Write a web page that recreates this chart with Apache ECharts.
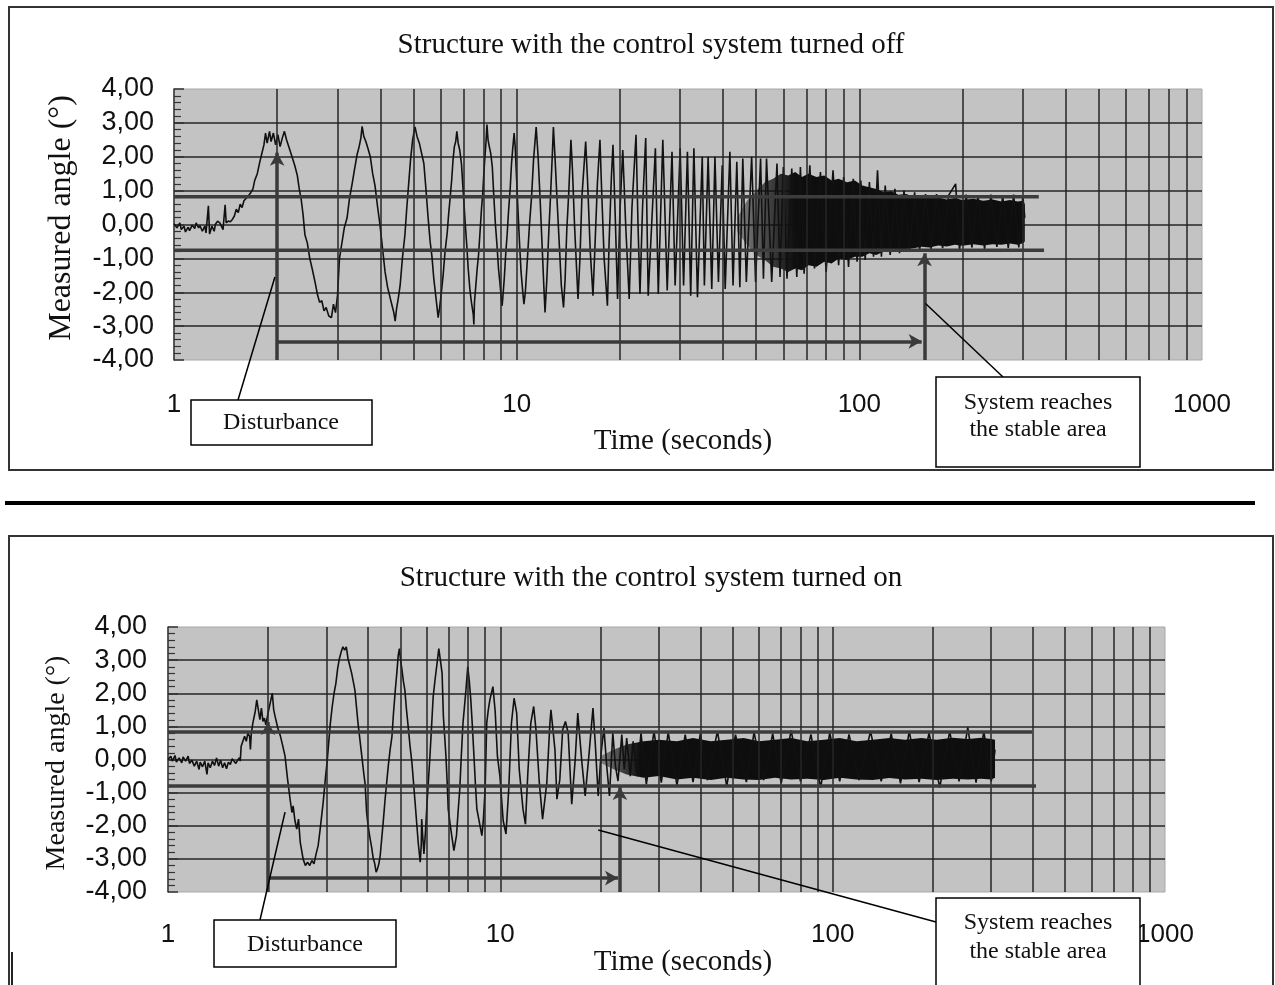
<!DOCTYPE html>
<html><head><meta charset="utf-8">
<script src="https://cdn.jsdelivr.net/npm/echarts@6/dist/echarts.min.js"></script>
<style>html,body{margin:0;padding:0;background:#fff;}#c{width:1275px;height:985px;}</style>
</head><body><div id="c"></div>
<script>
// ---------------- DATA ----------------
const xTickLabels = ['1', '10', '100', '1000'];
const xGridValues = [2,3,4,5,6,7,8,9,10,20,30,40,50,60,70,80,90,100,200,300,400,500,600,700,800,900];

// Panel 1 : control system turned off  [time (s), angle (deg)]
const offSignal = [
[1.00,0.02],[1.02,-0.10],[1.04,0.05],[1.05,-0.15],[1.07,-0.05],[1.08,-0.22],[1.10,-0.08],[1.11,-0.18],[1.13,-0.02],[1.15,-0.12],[1.16,0.05],[1.18,-0.10],[1.19,-0.03],[1.21,-0.20],[1.23,-0.05],[1.24,-0.25],[1.26,0.55],[1.27,-0.28],[1.29,-0.05],[1.31,-0.20],[1.32,0.00],[1.34,0.10],[1.36,0.05],[1.38,-0.08],[1.39,-0.15],[1.41,0.58],[1.42,0.05],[1.44,0.10],[1.46,0.08],[1.48,0.15],
[1.50,0.25],[1.52,0.45],[1.54,0.35],[1.56,0.60],[1.58,0.50],[1.60,0.70],[1.62,0.65],[1.65,0.85],[1.67,0.92],[1.70,1.05],[1.72,1.30],[1.75,1.50],[1.78,1.85],[1.80,2.05],[1.83,2.35],[1.85,2.70],[1.87,2.40],[1.90,2.75],[1.92,2.45],[1.95,2.70],[1.98,2.35],[2.01,2.65],[2.04,2.30],[2.07,2.55],[2.10,2.75],[2.13,2.50],[2.17,2.25],[2.21,2.00],[2.25,1.75],[2.29,1.45],[2.32,1.05],[2.35,0.75],[2.38,0.30],[2.41,-0.30],[2.45,-0.55],[2.49,-1.00],[2.53,-1.30],[2.58,-1.70],[2.62,-2.05],[2.66,-2.30],[2.70,-2.25],[2.74,-2.55],[2.78,-2.45],[2.83,-2.70],[2.88,-2.75],[2.92,-2.35],[2.96,-2.60],[3.00,-2.10],[3.04,-1.00],[3.09,-0.55],[3.14,-0.10],[3.20,0.20],[3.25,0.75],[3.31,1.20],[3.36,1.60],[3.42,2.05],[3.47,2.30],[3.51,2.55],[3.54,2.90],[3.58,2.60],[3.63,2.45],[3.68,2.25],[3.74,2.00],[3.80,1.50],[3.86,1.15],[3.93,0.50],[3.99,0.00],[4.06,-0.70],[4.13,-1.40],[4.20,-1.85],[4.27,-2.15],[4.33,-2.40],[4.38,-2.60],[4.42,-2.85],[4.46,-2.50],[4.51,-2.20],[4.57,-1.80],[4.64,-1.00],[4.72,-0.30],[4.78,0.50],[4.84,1.20],[4.90,1.90],[4.97,2.50],[5.05,2.88],[5.12,2.60],[5.20,2.40],[5.28,2.10],[5.36,1.80],[5.44,1.00],[5.51,0.25],[5.59,-0.50],[5.66,-0.95],[5.73,-1.60],[5.79,-2.00],[5.85,-2.40],[5.90,-2.75],[5.96,-2.45],[6.03,-2.00],[6.10,-1.50],[6.18,-0.80],[6.27,-0.25],[6.33,0.30],[6.39,0.75],[6.46,1.30],[6.52,1.90],[6.58,2.30],[6.64,2.45],[6.69,2.75],[6.75,2.40],[6.82,2.20],[6.90,1.80],[6.98,1.00],[7.07,0.10],[7.15,-0.60],[7.22,-1.30],[7.30,-1.90],[7.38,-2.30],[7.47,-2.65],[7.50,-2.95],[7.53,-2.30],[7.60,-1.80],[7.67,-1.30],[7.74,-0.90],[7.82,-0.20],[7.90,0.50],[7.96,0.90],[8.02,1.50],[8.08,2.00],[8.14,2.45],[8.19,2.95],[8.25,2.50],[8.32,2.30],[8.40,2.10],[8.49,1.70],[8.58,0.80],[8.67,0.00],[8.76,-0.60],[8.85,-1.30],[8.95,-1.80],[9.02,-2.20],[9.07,-2.40],[9.12,-2.10],[9.20,-1.60],[9.30,-0.80],[9.38,-0.30],[9.47,0.40],[9.58,1.10],[9.66,1.80],[9.75,2.30],[9.83,2.70],[9.90,2.30],[10.0,1.30],[10.08,0.50],[10.2,-0.60],[10.3,-1.40],[10.4,-1.90],[10.5,-2.35],[10.6,-2.00],[10.75,-1.00],[10.9,0.00],[11.05,0.80],[11.2,1.90],[11.4,2.88],[11.55,2.00],[11.7,0.80],[11.85,-0.50],[12.0,-1.80],[12.1,-2.60],[12.25,-1.60],[12.4,-0.30],[12.55,0.80],[12.7,2.00],[12.8,2.88],[12.95,1.90],[13.15,0.50],[13.35,-0.80],[13.5,-1.80],[13.7,-2.45],[13.85,-1.60],[14.0,-0.20],[14.2,1.00],[14.4,2.50],[14.55,1.60],[14.75,0.00],[15.1,-2.20],[15.3,-1.00],[15.5,0.80],[15.9,2.45],[16.1,1.30],[16.4,-0.80],[16.7,-2.10],[16.9,-0.80],[17.2,1.20],[17.5,2.50],[17.7,1.00],[18.0,-1.00],[18.4,-2.40],[18.6,-0.60],[18.9,1.40],[19.1,2.35],[19.4,0.20],[19.7,-2.20],[20.0,0.30],[20.4,2.20],[20.8,0.00],[21.3,-2.20],[21.7,0.50],[22.3,2.65],[22.6,0.00],[22.9,-2.05],[23.3,0.50],[23.8,2.55],[24.2,-2.10],[25.4,2.25],[25.9,-2.05],[26.7,2.50],[27.5,-1.95],[28.4,2.15],[29.0,-1.80],[30.0,2.25],[30.7,-1.80],[31.5,2.15],[32.2,-2.10],[32.9,2.25],[33.7,-2.15],[34.8,2.00],[35.3,-1.80],[36.2,2.00],[37.1,-1.90],[37.9,2.00],[38.8,-1.70],[39.8,1.75],[40.6,-1.90],[41.9,2.15],[42.8,-1.80],[43.9,1.85],[44.8,-1.85],[45.7,1.95],[46.8,-1.70],[48.5,2.00],[49.8,-1.70],[51.5,1.95],[52.5,-1.60],[53.6,1.95],[55.5,-1.70],[57.5,1.80],[58.7,-1.55],[60.0,1.70],[61.5,-1.60],
[63.5,1.65],[65.7,-1.55],[67.3,1.70],[69.0,-1.45],[71.7,1.75],[74.0,-1.30],[77.0,1.55],[80.0,-1.40],[83.8,1.60],[87.0,-1.20],[90.0,1.40],[93.0,-1.25],[96.0,1.35],[98.5,-1.10],[101,1.30],[104,-1.05],[107,1.25],[110,-0.95],[113,1.60],[116,-0.95],[119,1.15],[123,-0.90],[127,1.05],[131,-0.85],[135,1.00],[140,-0.80],[145,0.95],[150,-0.75],[156,0.90],[162,-0.72],[168,0.90],[175,-0.70],[182,0.85],[191,1.20],[196,-0.75],[205,0.88],[213,-0.68],[222,0.85],[232,-0.72],[242,0.88],[252,-0.66],[262,0.85],[272,-0.70],[282,0.88],[292,-0.68],[300,0.85],[304,0.20]
];
// dense (solid black) part of the trace: [time, upper edge, lower edge]
const offBand = [[44,0.2,-0.2],[47,0.7,-0.6],[50,1.0,-0.9],[53,1.25,-1.05],[56,1.35,-1.25],[59,1.5,-1.3],[62,1.45,-1.4],[65,1.55,-1.3],[68,1.4,-1.35],[71,1.5,-1.2],[75,1.4,-1.25],[79,1.45,-1.1],[83,1.3,-1.15],[87,1.35,-1.0],[92,1.25,-1.05],[97,1.3,-0.95],[102,1.15,-0.95],[107,1.1,-0.85],[112,1.05,-0.9],[118,0.95,-0.8],[124,0.98,-0.82],[130,0.88,-0.75],[137,0.9,-0.72],[144,0.82,-0.7],[152,0.85,-0.66],[160,0.78,-0.68],[170,0.8,-0.62],[180,0.74,-0.65],[190,0.78,-0.6],[200,0.72,-0.63],[215,0.76,-0.58],[230,0.7,-0.62],[245,0.74,-0.58],[260,0.68,-0.6],[275,0.72,-0.56],[290,0.68,-0.6],[300,0.7,-0.55],[304,0.6,-0.5]];
const offUpperLimit = [[1,0.82],[334,0.82]];
const offLowerLimit = [[1,-0.76],[346,-0.76]];
const offArrowUp = [[2,-4],[2,2.12]];
const offArrowRight = [[2,-3.45],[152,-3.45]];
const offArrowStable = [[155,-4],[155,-0.85]];

// Panel 2 : control system turned on
const onSignal = [
[1.00,0.00],[1.02,0.10],[1.03,-0.05],[1.05,0.12],[1.06,-0.08],[1.08,0.05],[1.10,-0.10],[1.11,0.08],[1.13,-0.05],[1.15,0.10],[1.16,-0.12],[1.18,-0.02],[1.20,-0.20],[1.22,-0.05],[1.24,-0.30],[1.25,-0.08],[1.27,-0.22],[1.29,-0.05],[1.31,-0.45],[1.32,-0.10],[1.34,-0.25],[1.36,-0.05],[1.38,-0.18],[1.40,0.05],[1.42,-0.20],[1.44,-0.02],[1.46,-0.25],[1.48,-0.10],[1.50,-0.28],[1.52,-0.08],[1.54,-0.15],[1.56,0.02],[1.58,-0.05],[1.60,-0.12],[1.62,-0.02],[1.64,0.05],[1.65,-0.05],
[1.66,0.40],[1.68,0.35],[1.70,0.70],[1.72,0.55],[1.74,0.80],[1.76,0.70],[1.77,0.30],[1.78,0.75],[1.80,1.10],[1.83,1.45],[1.85,1.80],[1.87,1.50],[1.89,1.20],[1.91,1.55],[1.93,1.15],[1.95,1.25],[1.97,1.05],[2.00,1.40],[2.03,1.70],[2.06,2.00],[2.08,1.50],[2.10,1.30],[2.14,0.95],[2.18,0.70],[2.21,0.45],[2.25,0.10],[2.29,-0.60],[2.33,-1.20],[2.36,-1.60],[2.38,-1.40],[2.41,-1.85],[2.44,-2.10],[2.47,-1.80],[2.50,-2.50],[2.55,-3.00],[2.59,-3.20],[2.63,-3.10],[2.67,-3.20],[2.71,-3.05],[2.75,-3.15],[2.79,-2.85],[2.83,-2.60],[2.87,-2.10],[2.93,-1.30],[2.98,-0.50],[3.01,-0.10],[3.05,0.60],[3.08,1.10],[3.12,1.60],[3.16,2.00],[3.20,2.30],[3.24,2.75],[3.28,3.05],[3.32,3.25],[3.36,3.40],[3.40,3.30],[3.44,3.40],[3.48,3.05],[3.52,3.00],[3.57,2.60],[3.61,2.35],[3.65,2.10],[3.69,1.60],[3.73,1.10],[3.78,0.60],[3.83,0.10],[3.88,-0.40],[3.92,-0.75],[3.96,-1.60],[4.00,-2.00],[4.05,-2.35],[4.10,-2.65],[4.14,-2.95],[4.19,-3.15],[4.23,-3.40],[4.27,-3.30],[4.31,-3.15],[4.35,-2.90],[4.40,-2.35],[4.45,-1.80],[4.50,-1.20],[4.55,-0.70],[4.60,-0.20],[4.66,0.30],[4.72,0.70],[4.77,1.40],[4.83,2.10],[4.88,2.60],[4.93,3.15],[4.97,3.35],[5.01,3.00],[5.06,2.70],[5.11,2.35],[5.16,2.10],[5.22,1.50],[5.28,1.00],[5.35,0.40],[5.42,-0.10],[5.48,-0.70],[5.54,-1.30],[5.60,-1.90],[5.66,-2.50],[5.70,-2.80],[5.74,-3.10],[5.78,-2.60],[5.80,-1.80],[5.84,-2.30],[5.89,-2.85],[5.95,-2.20],[6.02,-1.30],[6.08,-0.60],[6.14,0.10],[6.21,1.00],[6.28,1.90],[6.36,2.40],[6.45,2.90],[6.53,3.35],[6.60,3.00],[6.68,2.60],[6.74,1.30],[6.80,0.70],[6.86,0.10],[6.92,-0.70],[6.97,-1.50],[7.05,-1.90],[7.14,-2.30],[7.25,-2.75],[7.32,-2.50],[7.38,-2.30],[7.46,-1.60],[7.55,-0.90],[7.63,0.10],[7.72,1.10],[7.80,1.60],[7.88,2.10],[7.98,2.80],[8.06,2.40],[8.15,1.80],[8.24,1.00],[8.33,0.10],[8.42,-0.80],[8.50,-1.50],[8.65,-1.90],[8.80,-2.30],[8.88,-1.90],[9.00,-0.90],[9.10,1.10],[9.20,1.50],[9.30,1.80],[9.50,2.20],[9.65,1.45],[9.80,0.10],[9.97,-0.50],[10.2,-1.85],[10.4,-2.25],[10.6,-0.90],[10.8,1.10],[11.0,1.85],[11.2,1.40],[11.4,-0.30],[11.7,-1.50],[11.9,-1.95],[12.1,-0.40],[12.35,1.10],[12.6,1.60],[12.8,0.90],[13.1,-0.70],[13.4,-1.80],[13.8,-0.70],[14.1,1.10],[14.2,1.50],[14.6,0.30],[14.8,-1.20],[15.1,-0.60],[15.4,0.90],[15.7,1.15],[16.0,0.80],[16.4,-1.35],[16.8,0.00],[17.1,1.40],[17.6,-0.10],[18.0,-1.10],[18.5,0.20],[19.0,1.55],[19.3,0.50],[19.7,-1.10],[20.1,0.20],[20.5,0.95],[20.9,-0.20],[21.3,-1.10],[21.8,0.80],[22.2,-0.20],[22.6,-0.65],[23.2,0.75],[23.6,-0.30],[24.0,0.65],[24.6,-0.50],[25.1,0.55],[25.8,-0.50],
[26.5,0.80],[27.5,-0.75],[29,0.85],[30.5,-0.70],[32,0.82],[34,-0.78],[36,0.75],[38,-0.68],[40,0.80],[42,-0.62],[45,0.85],[48,-0.80],[51,0.75],[55,-0.68],[58,0.82],[62,-0.62],[66,0.78],[70,-0.72],[75,0.88],[80,-0.66],[86,0.76],[92,-0.85],[98,0.80],[105,-0.66],[112,0.76],[120,-0.62],[130,0.85],[140,-0.66],[150,0.78],[160,-0.72],[170,0.85],[182,-0.68],[195,0.80],[210,-0.85],[225,0.85],[240,-0.66],[255,0.97],[270,-0.70],[285,0.85],[300,-0.66],[308,0.30]
];
const onBand = [[20,0.1,-0.1],[22,0.3,-0.3],[24,0.45,-0.45],[27,0.55,-0.55],[30,0.6,-0.5],[34,0.55,-0.6],[38,0.65,-0.55],[43,0.55,-0.62],[48,0.6,-0.55],[54,0.65,-0.6],[60,0.55,-0.62],[67,0.6,-0.55],[75,0.65,-0.6],[84,0.55,-0.58],[94,0.6,-0.62],[105,0.65,-0.55],[118,0.55,-0.6],[132,0.6,-0.62],[148,0.65,-0.56],[165,0.6,-0.6],[185,0.65,-0.58],[205,0.6,-0.62],[230,0.66,-0.58],[255,0.62,-0.6],[280,0.66,-0.58],[300,0.62,-0.6],[308,0.6,-0.55]];
const onUpperLimit = [[1,0.83],[398,0.83]];
const onLowerLimit = [[1,-0.80],[409,-0.80]];
const onArrowUp = [[2,-4],[2,1.13]];
const onArrowRight = [[2,-3.58],[22.6,-3.58]];
const onArrowStable = [[22.9,-4],[22.9,-0.83]];

// annotation anchors (data coords) for the leader lines
const offDistAnchor = [1.97,-1.55];
const offStableAnchor = [156,-2.33];
const onDistAnchor = [2.25,-1.59];
const onStableAnchor = [19.7,-2.13];

// ---------------- CHART ----------------
const SERIF = '"Liberation Serif","Times New Roman",serif';
const SANS = '"Liberation Sans",Arial,sans-serif';
const chart = echarts.init(document.getElementById('c'), null, {renderer:'canvas'});

const grids = [
  {left:174, top:89, width:1028, height:271},
  {left:168, top:627, width:997, height:265}
];

function xAxis(i, margin){
  return {type:'log', logBase:10, gridIndex:i, min:1, max:1000,
    axisLine:{show:false}, axisTick:{show:false}, splitLine:{show:false},
    axisLabel:{margin:margin, fontFamily:SANS, fontSize:26, color:'#111',
      formatter:v => xTickLabels[Math.round(Math.log10(v))]}};
}
function yAxis(i, margin){
  return {type:'value', gridIndex:i, min:-4, max:4, interval:1,
    axisLine:{show:true, lineStyle:{color:'#333', width:1.5}},
    axisTick:{show:true, inside:true, length:10, lineStyle:{color:'#333', width:1.5}},
    minorTick:{show:true, splitNumber:5, length:7, lineStyle:{color:'#333', width:1.2}},
    splitLine:{show:true, showMinLine:false, showMaxLine:false, lineStyle:{color:'#262626', width:1.5}},
    axisLabel:{margin:margin, fontFamily:SANS, fontSize:27, color:'#111',
      formatter:v => v.toFixed(2).replace('.', ',')}};
}
function bandSeries(band, i, fadeStop){
  return {type:'custom', xAxisIndex:i, yAxisIndex:i, z:3, silent:true,
    data: band.map(r => [r[0], r[1], r[2]]),
    encode:{x:0, y:[1,2]},
    renderItem:(params, api) => {
      if (params.dataIndex !== 0) return null;
      const up = band.map(r => api.coord([r[0], r[1]]));
      const lo = band.map(r => api.coord([r[0], r[2]])).reverse();
      const fill = new echarts.graphic.LinearGradient(0, 0, 1, 0, [
        {offset:0, color:'rgba(14,14,14,0.35)'},
        {offset:fadeStop, color:'rgba(14,14,14,1)'},
        {offset:1, color:'rgba(14,14,14,1)'}
      ]);
      return {type:'polygon', shape:{points:up.concat(lo)}, style:{fill:fill, stroke:null}};
    }};
}
function panelSeries(i, signal, band, fadeStop, upper, lower, arrUp, arrRight, arrStable){
  const arrowStyle = {color:'#3a3a3a', width:3.5, type:'solid'};
  return [
    {type:'line', xAxisIndex:i, yAxisIndex:i, data:[], z:2, silent:true,
      markLine:{silent:true, symbol:'none', label:{show:false}, animation:false,
        lineStyle:{color:'#262626', width:1.5, type:'solid'},
        data: xGridValues.map(x => ({xAxis:x}))}},
    bandSeries(band, i, fadeStop),
    {type:'line', xAxisIndex:i, yAxisIndex:i, data:signal, z:4, showSymbol:false, silent:true,
      lineStyle:{color:'#111', width:1.6}},
    {type:'line', xAxisIndex:i, yAxisIndex:i, data:upper, z:6, showSymbol:false, silent:true,
      lineStyle:{color:'#3c3c3c', width:3.5}},
    {type:'line', xAxisIndex:i, yAxisIndex:i, data:lower, z:6, showSymbol:false, silent:true,
      lineStyle:{color:'#3c3c3c', width:3.5}},
    {type:'line', xAxisIndex:i, yAxisIndex:i, data:[], z:7, silent:true,
      markLine:{silent:true, symbol:['none','arrow'], symbolSize:[11,13], label:{show:false}, animation:false,
        lineStyle:arrowStyle,
        data:[
          [{coord:arrUp[0]},{coord:arrUp[1]}],
          [{coord:arrRight[0]},{coord:arrRight[1]}],
          [{coord:arrStable[0]},{coord:arrStable[1]}]
        ]}}
  ];
}

const option = {
  animation:false,
  backgroundColor:'#ffffff',
  grid: grids.map(g => Object.assign({show:true, backgroundColor:'#c3c3c3', borderColor:'#a8a8a8', borderWidth:1}, g)),
  xAxis:[xAxis(0, 32), xAxis(1, 30)],
  yAxis:[yAxis(0, 20), yAxis(1, 21)],
  series: [].concat(
    panelSeries(0, offSignal, offBand, 0.2, offUpperLimit, offLowerLimit, offArrowUp, offArrowRight, offArrowStable),
    panelSeries(1, onSignal, onBand, 0.1, onUpperLimit, onLowerLimit, onArrowUp, onArrowRight, onArrowStable)
  )
};
chart.setOption(option);

// ---------------- ANNOTATIONS ----------------
function px(i, p){ return chart.convertToPixel({xAxisIndex:i, yAxisIndex:i}, p); }
function txt(x, y, s, size, family, extra){
  return Object.assign({type:'text', x:x, y:y, z:100, silent:true,
    style:{text:s, x:0, y:0, fontSize:size, fontFamily:family, fill:'#111', align:'center', verticalAlign:'middle'}}, extra || {});
}
function box(x, y, w, h){
  return {type:'rect', z:99, silent:true, shape:{x:x, y:y, width:w, height:h}, style:{fill:'#fff', stroke:'#000', lineWidth:1.5}};
}
function leader(x1, y1, p){
  return {type:'line', z:98, silent:true, shape:{x1:x1, y1:y1, x2:p[0], y2:p[1]}, style:{stroke:'#000', lineWidth:1.5}};
}
const graphics = [
  {type:'rect', z:90, silent:true, shape:{x:9, y:7, width:1264, height:463}, style:{fill:'none', stroke:'#333', lineWidth:2}},
  {type:'rect', z:90, silent:true, shape:{x:9, y:536, width:1264, height:480}, style:{fill:'none', stroke:'#333', lineWidth:2}},
  {type:'line', z:90, silent:true, shape:{x1:5, y1:503, x2:1255, y2:503}, style:{stroke:'#000', lineWidth:4}},
  {type:'line', z:90, silent:true, shape:{x1:12, y1:952, x2:12, y2:985}, style:{stroke:'#222', lineWidth:2}},
  txt(651, 45, 'Structure with the control system turned off', 29, SERIF),
  txt(651, 578, 'Structure with the control system turned on', 29, SERIF),
  txt(683, 441, 'Time (seconds)', 29, SERIF),
  txt(683, 962, 'Time (seconds)', 29, SERIF),
  txt(62, 218, 'Measured angle (°)', 32, SERIF, {rotation:Math.PI/2}),
  txt(57, 763, 'Measured angle (°)', 28, SERIF, {rotation:Math.PI/2}),
  leader(238, 400, px(0, offDistAnchor)),
  leader(1003, 377, px(0, offStableAnchor)),
  leader(260, 920, px(1, onDistAnchor)),
  leader(936, 922, px(1, onStableAnchor)),
  box(191, 400, 181, 45), txt(281, 423, 'Disturbance', 24, SERIF),
  box(936, 377, 204, 90), txt(1038, 403, 'System reaches', 24, SERIF), txt(1038, 430, 'the stable area', 24, SERIF),
  box(214, 920, 182, 47), txt(305, 945, 'Disturbance', 24, SERIF),
  box(936, 898, 204, 110), txt(1038, 923, 'System reaches', 24, SERIF), txt(1038, 952, 'the stable area', 24, SERIF)
];
chart.setOption({graphic: graphics});
</script>
</body></html>
